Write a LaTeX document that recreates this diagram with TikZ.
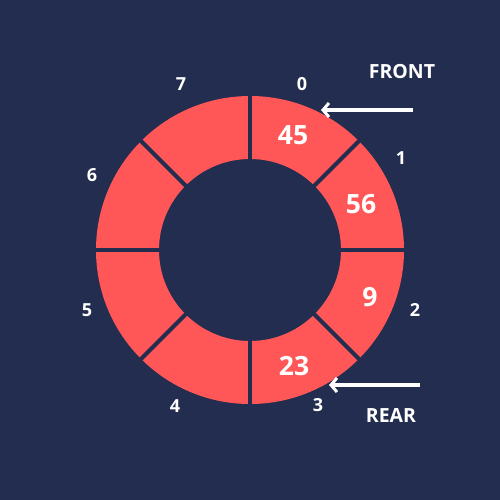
\documentclass[tikz,border=0pt]{standalone}
\usepackage{fontspec}
\setmainfont{Open Sans}
\usetikzlibrary{arrows.meta,calc}
\definecolor{bg}{HTML}{222D4F}
\definecolor{ring}{HTML}{FF5757}
\tikzset{
  idx/.style={text=white,font=\fontsize{18}{21}\selectfont\bfseries,inner sep=0pt},
  val/.style={text=white,font=\fontsize{26.5}{30}\selectfont\bfseries,inner sep=0pt},
  tag/.style={text=white,font=\fontsize{19.5}{22}\selectfont\bfseries,inner sep=0pt},
  sep/.style={draw=bg,line width=4pt},
  ptr/.style={draw=white,line width=3.5pt,-{Straight Barb[length=6pt,width=14pt,line width=3pt]}}
}
\begin{document}
\begin{tikzpicture}[x=1pt,y=-1pt]
\fill[bg] (0,0) rectangle (500,500);
\useasboundingbox (0,0) rectangle (500,500);
\coordinate (c) at (250,250);
\fill[ring,even odd rule] (c) circle[radius=154] (c) circle[radius=91];
\foreach \a in {0,45,...,315}{
  \draw[sep] ($(c)+(\a:89)$) -- ($(c)+(\a:156)$);
}
\node[idx] (i0) at (302,84) {0};
\node[idx] (i1) at (401,158) {1};
\node[idx] (i2) at (415,310) {2};
\node[idx] (i3) at (318,405) {3};
\node[idx] (i4) at (175,406) {4};
\node[idx] (i5) at (87,310) {5};
\node[idx] (i6) at (92,175) {6};
\node[idx] (i7) at (181,84) {7};
\node[val] (v0) at (293,135) {45};
\node[val] (v1) at (361,204) {56};
\node[val] (v2) at (370,297) {9};
\node[val] (v3) at (294,366) {23};
\node[tag] (front) at (402,72) {FRONT};
\node[tag] (rear) at (391,416) {REAR};
\coordinate (fs) at (413,110);
\coordinate (fe) at (321,110);
\coordinate (rs) at (420,385);
\coordinate (re) at (329,385);
\draw[ptr] (fs) -- (fe);
\draw[ptr] (rs) -- (re);
\end{tikzpicture}
\end{document}
